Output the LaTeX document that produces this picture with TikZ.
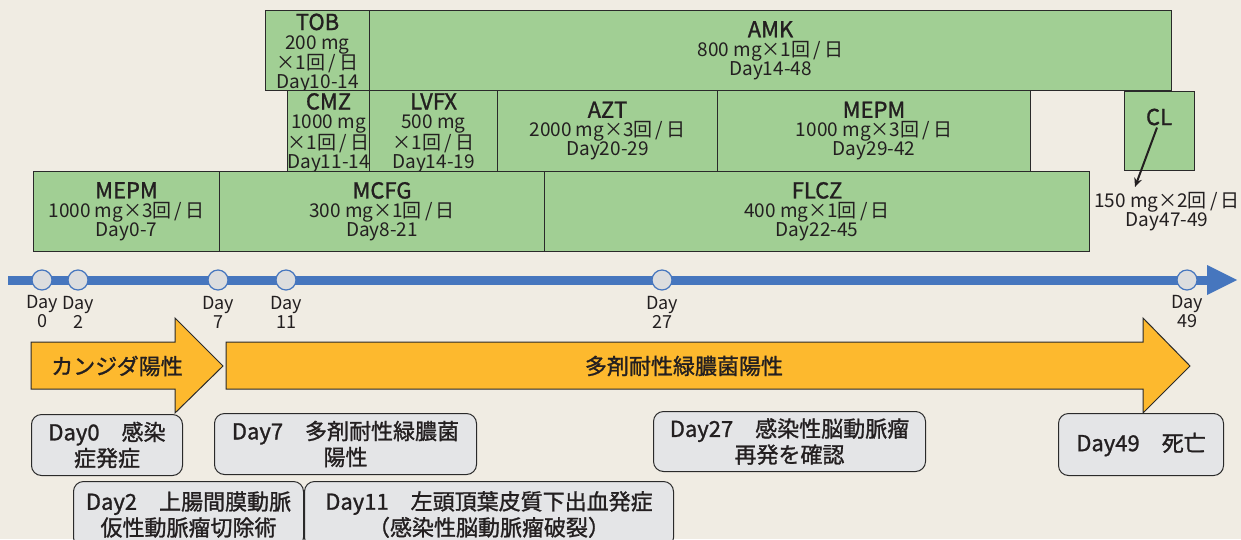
\documentclass[tikz,border=0pt]{standalone}
\usepackage{fontspec}
\setmainfont{Noto Sans CJK JP}
\newfontfamily\medfont{Noto Sans CJK JP}[FakeBold=1.2]
\usetikzlibrary{arrows.meta}
\definecolor{bgc}{HTML}{F0ECE3}
\definecolor{gfill}{HTML}{A1CF94}
\definecolor{linec}{HTML}{2A2A2A}
\definecolor{txt}{HTML}{231F20}
\definecolor{tlblue}{HTML}{4676BE}
\definecolor{dotfill}{HTML}{DCDDDE}
\definecolor{orng}{HTML}{FDB92E}
\definecolor{evfill}{HTML}{E4E5E7}
\newcommand\ttl[1]{{\fontsize{22}{19}\selectfont\medfont #1}}
\newcommand\dslash{\,/\,}
\tikzset{
  gbox/.style={draw=linec, line width=1pt, fill=gfill, anchor=north west, inner sep=0pt,
    align=center, text=txt, font=\fontsize{19}{19}\selectfont},
  daydot/.style={circle, draw=tlblue, line width=1.2pt, fill=dotfill, minimum size=20pt, inner sep=0pt},
  daylbl/.style={align=center, text=txt, inner sep=0pt, font=\fontsize{18}{19}\selectfont},
  evbox/.style={draw=linec, line width=1pt, fill=evfill, rounded corners=10pt, anchor=north west,
    inner sep=0pt, align=center, text=txt, font=\fontsize{22}{26}\selectfont\medfont},
  arrowshape/.style={fill=orng, draw=linec, line width=1pt},
  arrowtext/.style={text=txt, font=\fontsize{22}{26}\selectfont\medfont, inner sep=0pt}
}
\begin{document}
\begin{tikzpicture}[x=1pt, y=-1pt]
\useasboundingbox (0,0) rectangle (1241,539);
\clip (0,0) rectangle (1241,539);
\fill[bgc] (0,0) rectangle (1241,539);

% drug boxes row 1
\node[gbox, minimum width=104pt, minimum height=80pt] (tob) at (265,10) {};
\node[text=txt, align=center, inner sep=0pt, font=\fontsize{19}{19}\selectfont] (tobt) at ([yshift=-3pt]tob.center) {\ttl{TOB}\\200 mg\\×1回\dslash 日\\Day10-14};
\node[gbox, minimum width=802pt, minimum height=80pt] (amk) at (369,10) {\ttl{AMK}\\800 mg×1回\dslash 日\\Day14-48};
% row 2
\node[gbox, minimum width=82pt, minimum height=81pt] (cmz) at (287,90) {};
\node[text=txt, align=center, inner sep=0pt, font=\fontsize{19}{19}\selectfont] (cmzt) at ([yshift=-2pt]cmz.center) {\ttl{CMZ}\\1000 mg\\×1回\dslash 日\\Day11-14};
\node[gbox, minimum width=128pt, minimum height=81pt] (lvfx) at (369,90) {};
\node[text=txt, align=center, inner sep=0pt, font=\fontsize{19}{19}\selectfont] (lvfxt) at ([yshift=-2pt]lvfx.center) {\ttl{LVFX}\\500 mg\\×1回\dslash 日\\Day14-19};
\node[gbox, minimum width=220pt, minimum height=81pt] (azt) at (497,90) {\ttl{AZT}\\2000 mg×3回\dslash 日\\Day20-29};
\node[gbox, minimum width=313pt, minimum height=81pt] (mepmb) at (717,90) {\ttl{MEPM}\\1000 mg×3回\dslash 日\\Day29-42};
\node[gbox, minimum width=70pt, minimum height=79pt] (clbox) at (1124,91) {};
\node[text=txt, inner sep=0pt, font=\fontsize{22}{19}\selectfont\medfont] (cl) at (1159,117) {CL};
% row 3
\node[gbox, minimum width=186pt, minimum height=80pt] (mepma) at (33,171) {\ttl{MEPM}\\1000 mg×3回\dslash 日\\Day0-7};
\node[gbox, minimum width=325pt, minimum height=80pt] (mcfg) at (219,171) {\ttl{MCFG}\\300 mg×1回\dslash 日\\Day8-21};
\node[gbox, minimum width=545pt, minimum height=80pt] (flcz) at (544,171) {\ttl{FLCZ}\\400 mg×1回\dslash 日\\Day22-45};

% CL dose label and arrow
\node[daylbl, font=\fontsize{19}{19}\selectfont] (cldose) at (1167,212) {150 mg×2回\dslash 日\\Day47-49};
\coordinate (clend) at (1135,187);
\draw[line width=2pt, txt, -{Stealth[length=9pt,width=8pt]}] ([xshift=-2pt,yshift=-2pt]cl.south) -- (clend);

% timeline
\coordinate (tlstart) at (8,280);
\coordinate (tlend) at (1208,280);
\draw[tlblue, line width=9pt] (tlstart) -- (tlend);
\fill[tlblue] (1207,265) -- (1237,280) -- (1207,295) -- cycle;
\node[daydot] (d0) at (42,280) {};
\node[daydot] (d2) at (78,280) {};
\node[daydot] (d7) at (218,280) {};
\node[daydot] (d11) at (286,280) {};
\node[daydot] (d27) at (662,280) {};
\node[daydot] (d49) at (1187,280) {};
\node[daylbl] (l0) at (42,312) {Day\\0};
\node[daylbl] (l2) at (78,312) {Day\\2};
\node[daylbl] (l7) at (218,312) {Day\\7};
\node[daylbl] (l11) at (286,312) {Day\\11};
\node[daylbl] (l27) at (662,312) {Day\\27};
\node[daylbl] (l49) at (1187,312) {Day\\49};

% orange arrows
\draw[arrowshape] (31,342) -- (175,342) -- (175,318) -- (223,366) -- (175,413) -- (175,389) -- (31,389) -- cycle;
\node[arrowtext] (candida) at (117,366) {カンジダ陽性};
\draw[arrowshape] (226,342) -- (1143,342) -- (1143,318) -- (1190,366) -- (1143,413) -- (1143,389) -- (226,389) -- cycle;
\node[arrowtext] (mdrp) at (684,366) {多剤耐性緑膿菌陽性};

% event boxes
\node[evbox, minimum width=151pt, minimum height=61pt] (e0) at (31,414) {Day0　感染\\症発症};
\node[evbox, minimum width=262pt, minimum height=61pt] (e7) at (214,413) {Day7　多剤耐性緑膿菌\\陽性};
\node[evbox, minimum width=272pt, minimum height=60pt] (e27) at (653,411) {Day27　感染性脳動脈瘤\\再発を確認};
\node[evbox, minimum width=165pt, minimum height=62pt] (e49) at (1058,413) {Day49　死亡};
\node[evbox, minimum width=230pt, minimum height=66pt] (e2) at (73,481) {Day2　上腸間膜動脈\\仮性動脈瘤切除術};
\node[evbox, minimum width=369pt, minimum height=66pt] (e11) at (304,481) {Day11　左頭頂葉皮質下出血発症\\（感染性脳動脈瘤破裂）};
\end{tikzpicture}
\end{document}
